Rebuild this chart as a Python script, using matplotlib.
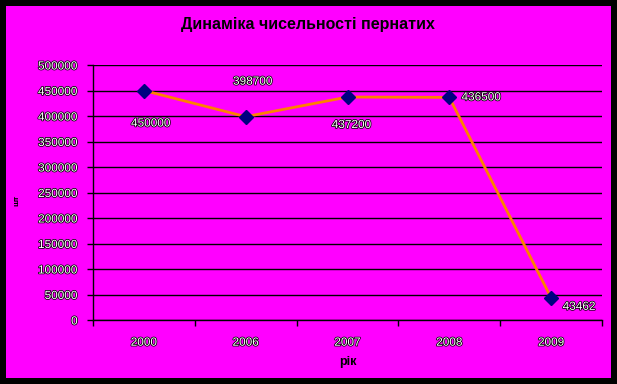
import matplotlib
matplotlib.use("Agg")
import matplotlib.pyplot as plt
import matplotlib.patheffects as pe
from matplotlib.patches import Rectangle

# data
years = ["2000", "2006", "2007", "2008", "2009"]
birds = [450000, 398700, 437200, 436500, 43462]
# where each value label sits relative to its point (pixels)
label_offsets = [(7, -33), (7, 35), (4, -28), (32, 0), (28, -9)]

y_ticks = list(range(0, 500001, 50000))

plt.rcParams["font.family"] = ["Liberation Sans", "DejaVu Sans"]

magenta = "#FF00FF"
outline = [pe.withStroke(linewidth=1.1, foreground="black")]

fig = plt.figure(figsize=(6.17, 3.84), dpi=100)
fig.patch.set_facecolor("black")
fig.patches.append(Rectangle((6 / 617, 6 / 384), 605 / 617, 372 / 384,
                             transform=fig.transFigure, facecolor=magenta,
                             edgecolor="none", zorder=-1))

ax = fig.add_axes([93 / 617, 1 - 320 / 384, 509 / 617, 255 / 384])
ax.set_facecolor(magenta)

x = list(range(len(years)))
ax.plot(x, birds, color="#FF8000", lw=2, marker="D", markersize=7,
        markerfacecolor="#000080", markeredgecolor="#000080", zorder=3)

for xi, v, (dx, dy) in zip(x, birds, label_offsets):
    ax.annotate(str(v), (xi, v), xytext=(dx, dy), textcoords="offset pixels",
                ha="center", va="center", fontsize=8.5, color="white",
                path_effects=outline)

ax.set_xlim(-0.5, len(years) - 0.5)
ax.set_ylim(0, 500000)
ax.set_yticks(y_ticks)
ax.set_yticklabels([str(t) for t in y_ticks])
ax.yaxis.grid(True, color="black", lw=1)
ax.set_axisbelow(True)

# ticks sit between categories, labels in the middle
ax.set_xticks([i - 0.5 for i in range(len(years) + 1)])
ax.set_xticklabels([])
ax.set_xticks(x, minor=True)
ax.set_xticklabels(years, minor=True)
ax.tick_params(axis="x", which="minor", length=0, pad=12)
ax.tick_params(axis="x", which="major", length=4, width=1, color="black")
ax.tick_params(axis="y", length=4, width=1, color="black", pad=7)

for lbl in ax.get_yticklabels() + ax.get_xticklabels(minor=True):
    lbl.set_fontsize(8.5)
    lbl.set_color("white")
    lbl.set_path_effects(outline)

for s in ["top", "right"]:
    ax.spines[s].set_visible(False)
for s in ["left", "bottom"]:
    ax.spines[s].set_color("black")
    ax.spines[s].set_linewidth(1)

ax.set_xlabel("рік", fontsize=9, fontweight="bold", labelpad=5)
fig.text(17 / 617, 1 - 200 / 384, "шт", rotation=90, fontsize=6,
         fontweight="bold", ha="center", va="center")
fig.text(308 / 617, 1 - 25 / 384, "Динаміка чисельності пернатих",
         fontsize=11.5, fontweight="bold", ha="center", va="center")

fig.savefig("out.png", dpi=100, facecolor=fig.get_facecolor())
